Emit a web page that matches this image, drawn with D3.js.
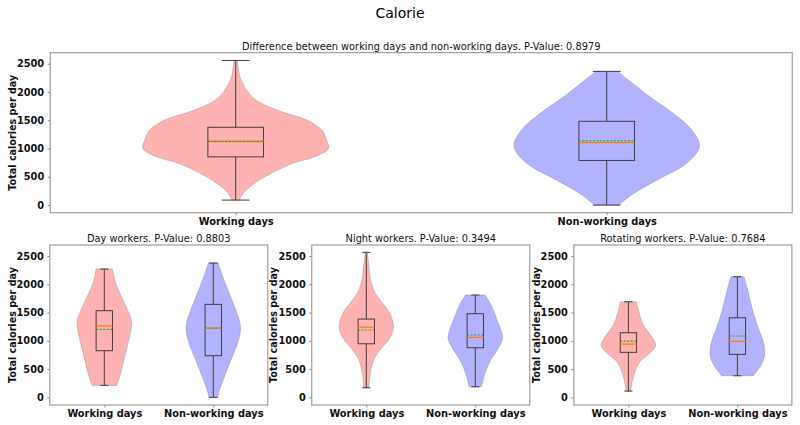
<!DOCTYPE html>
<html>
<head>
<meta charset="utf-8">
<script src="https://cdn.jsdelivr.net/npm/d3@7"></script>
<style>
  html, body { margin: 0; padding: 0; background: #fff; }
  svg { display: block; font-family: "DejaVu Sans", sans-serif; }
</style>
</head>
<body>
<svg id="chart" width="800" height="425"></svg>
<script>
// ---------------- data ----------------
const figureTitle = "Calorie";
const categories = ["Working days", "Non-working days"];
const panelTitles = [
  "Difference between working days and non-working days. P-Value: 0.8979",
  "Day workers. P-Value: 0.8803",
  "Night workers. P-Value: 0.3494",
  "Rotating workers. P-Value: 0.7684"
];
const yTicks = [0, 500, 1000, 1500, 2000, 2500];
const yLabel = "Total calories per day";

// box statistics: [min, q1, median, mean, q3, max]
const allWorkStats  = [88, 852, 1124, 1126, 1376, 2558];
const allNonStats   = [0, 789, 1106, 1136, 1482, 2364];
const dayWorkStats  = [212, 825, 1262, 1203, 1533, 2270];
const dayNonStats   = [0, 737, 1222, 1228, 1645, 2376];
const nightWorkStats = [170, 948, 1240, 1191, 1385, 2565];
const nightNonStats  = [187, 878, 1061, 1102, 1479, 1810];
const rotWorkStats  = [111, 796, 942, 995, 1143, 1691];
const rotNonStats   = [382, 760, 991, 1085, 1408, 2134];

// violin density profiles: [value, relative half-width]
const allWorkDensity = [[88,.04],[206,.08],[382,.2],[558,.38],[735,.61],[853,.85],[1000,1],[1150,.98],[1323,.93],[1500,.77],[1677,.45],[1880,.2],[2205,.06],[2400,.03],[2558,.02]];
const allNonDensity  = [[0,.13],[206,.29],[441,.54],[735,.86],[1041,1],[1323,.92],[1618,.72],[1911,.47],[2205,.24],[2364,.12]];
const dayWorkDensity = [[212,.45],[394,.58],[630,.7],[866,.82],[1102,.94],[1338,1],[1574,.83],[1810,.6],[2046,.4],[2270,.3]];
const dayNonDensity  = [[0,.16],[100,.21],[394,.43],[689,.67],[984,.91],[1249,1],[1515,.85],[1810,.61],[2104,.37],[2376,.18]];
const nightWorkDensity = [[170,.09],[335,.12],[512,.18],[689,.3],[866,.55],[1043,.85],[1249,1],[1515,.83],[1692,.55],[1868,.3],[2104,.15],[2340,.09],[2565,.04]];
const nightNonDensity  = [[187,.23],[335,.3],[512,.42],[689,.6],[866,.84],[1043,1],[1161,.96],[1397,.78],[1633,.58],[1810,.36]];
const rotWorkDensity = [[111,.08],[276,.14],[453,.24],[630,.42],[807,.84],[925,1],[1102,.81],[1279,.55],[1515,.38],[1691,.29]];
const rotNonDensity  = [[382,.58],[571,.87],[748,1],[985,.95],[1220,.77],[1456,.61],[1692,.48],[1928,.36],[2134,.24]];

// ---------------- layout ----------------
const svg = d3.select("#chart");
const violinColors = ["rgba(255,0,0,0.3)", "rgba(0,0,255,0.3)"];
const yDomain = [-135, 2695];

const panels = [
  { box: [50.2, 792.2, 52.7, 212.7], title: panelTitles[0], titleY: 49.5, labelX: 16,
    violins: [[allWorkStats, allWorkDensity], [allNonStats, allNonDensity]] },
  { box: [49.8, 267.8, 245, 405], title: panelTitles[1], titleY: 241.5, labelX: 16,
    violins: [[dayWorkStats, dayWorkDensity], [dayNonStats, dayNonDensity]] },
  { box: [311.8, 529.8, 245, 405], title: panelTitles[2], titleY: 241.5, labelX: 277,
    violins: [[nightWorkStats, nightWorkDensity], [nightNonStats, nightNonDensity]] },
  { box: [573.9, 791.9, 245, 405], title: panelTitles[3], titleY: 241.5, labelX: 539.5,
    violins: [[rotWorkStats, rotWorkDensity], [rotNonStats, rotNonDensity]] }
];

svg.append("text")
  .attr("x", 400).attr("y", 18)
  .attr("text-anchor", "middle")
  .attr("font-size", 14)
  .attr("fill", "#000")
  .text(figureTitle);

panels.forEach(p => {
  const [x0, x1, y0, y1] = p.box;
  const x = d3.scaleLinear().domain([0.5, 2.5]).range([x0, x1]);
  const y = d3.scaleLinear().domain(yDomain).range([y1, y0]);
  const g = svg.append("g");

  // violins
  const halfW = 0.25, boxW = 0.15;
  p.violins.forEach(([stats, dens], i) => {
    const c = i + 1;
    const area = d3.area()
      .y(d => y(d[0]))
      .x0(d => x(c - halfW * d[1]))
      .x1(d => x(c + halfW * d[1]))
      .curve(d3.curveCatmullRom);
    g.append("path")
      .attr("d", area(dens))
      .attr("fill", violinColors[i])
      .attr("stroke", "rgba(120,120,120,0.35)")
      .attr("stroke-width", 1);

    const [mn, q1, med, mean, q3, mx] = stats;
    const lc = "#3f3f3f";
    // whiskers
    g.append("line").attr("x1", x(c)).attr("x2", x(c)).attr("y1", y(mn)).attr("y2", y(q1))
      .attr("stroke", lc).attr("stroke-width", 1);
    g.append("line").attr("x1", x(c)).attr("x2", x(c)).attr("y1", y(q3)).attr("y2", y(mx))
      .attr("stroke", lc).attr("stroke-width", 1);
    // caps
    [mn, mx].forEach(v => {
      g.append("line").attr("x1", x(c - boxW / 4)).attr("x2", x(c + boxW / 4))
        .attr("y1", y(v)).attr("y2", y(v)).attr("stroke", lc).attr("stroke-width", 1);
    });
    // box
    g.append("rect")
      .attr("x", x(c - boxW / 2)).attr("width", x(c + boxW / 2) - x(c - boxW / 2))
      .attr("y", y(q3)).attr("height", y(q1) - y(q3))
      .attr("fill", "none").attr("stroke", lc).attr("stroke-width", 1);
    // median
    g.append("line").attr("x1", x(c - boxW / 2)).attr("x2", x(c + boxW / 2))
      .attr("y1", y(med)).attr("y2", y(med))
      .attr("stroke", "#ff7f0e").attr("stroke-width", 1.3);
    // mean
    g.append("line").attr("x1", x(c - boxW / 2)).attr("x2", x(c + boxW / 2))
      .attr("y1", y(mean)).attr("y2", y(mean))
      .attr("stroke", "#2ca02c").attr("stroke-width", 1.1)
      .attr("stroke-dasharray", "2,1.5");
  });

  // frame
  g.append("rect")
    .attr("x", x0).attr("y", y0).attr("width", x1 - x0).attr("height", y1 - y0)
    .attr("fill", "none").attr("stroke", "#8a8a8a").attr("stroke-width", 1);

  // axes
  const yAxis = d3.axisLeft(y).tickValues(yTicks).tickFormat(d3.format("d"))
    .tickSize(2.5).tickPadding(3.5);
  const ya = svg.append("g").attr("transform", `translate(${x0},0)`).call(yAxis);
  ya.select(".domain").remove();
  ya.selectAll("line").attr("stroke", "#8a8a8a");
  ya.selectAll("text").attr("font-size", 9.8).attr("font-weight", "bold")
    .attr("font-family", "DejaVu Sans").attr("fill", "#111");

  const xAxis = d3.axisBottom(x).tickValues([1, 2]).tickFormat(d => categories[d - 1])
    .tickSize(2.5).tickPadding(3);
  const xa = svg.append("g").attr("transform", `translate(0,${y1})`).call(xAxis);
  xa.select(".domain").remove();
  xa.selectAll("line").attr("stroke", "#8a8a8a");
  xa.selectAll("text").attr("font-size", 9.8).attr("font-weight", "bold")
    .attr("font-family", "DejaVu Sans").attr("fill", "#111");

  // titles
  svg.append("text")
    .attr("x", (x0 + x1) / 2).attr("y", p.titleY)
    .attr("text-anchor", "middle").attr("font-size", 9.8).attr("fill", "#111")
    .text(p.title);

  svg.append("text")
    .attr("transform", `translate(${p.labelX},${(y0 + y1) / 2}) rotate(-90)`)
    .attr("text-anchor", "middle").attr("font-size", 9.6).attr("font-weight", "bold")
    .attr("fill", "#111")
    .text(yLabel);
});
</script>
</body>
</html>
